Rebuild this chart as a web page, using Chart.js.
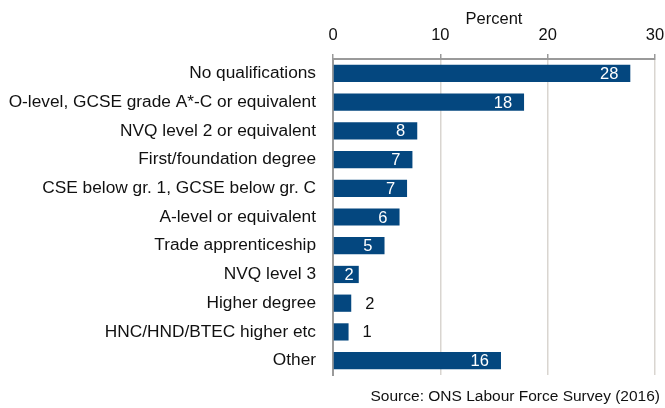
<!DOCTYPE html>
<html lang="en">

<head>
    <meta charset="UTF-8">
    <title>Qualifications</title>
    <style>
        html, body {
            margin: 0;
            padding: 0;
            background: #fff;
        }

        .chart-container {
            position: relative;
            width: 665px;
            height: 408px;
        }
    </style>
</head>

<body>
    <div class="chart-container">
        <canvas id="qualChart"></canvas>
    </div>
    <script src="https://cdn.jsdelivr.net/npm/chart.js"></script>
    <script>
        // 类别和数值
        const categories = [
            'No qualifications',
            'O-level, GCSE grade A*-C or equivalent',
            'NVQ level 2 or equivalent',
            'First/foundation degree',
            'CSE below gr. 1, GCSE below gr. C',
            'A-level or equivalent',
            'Trade apprenticeship',
            'NVQ level 3',
            'Higher degree',
            'HNC/HND/BTEC higher etc',
            'Other'
        ];
        const percentValues = [27.7, 17.8, 7.85, 7.4, 6.9, 6.2, 4.8, 2.4, 1.7, 1.45, 15.65];
        const xTicks = [0, 10, 20, 30];
        const sourceText = 'Source: ONS Labour Force Survey (2016)';

        const fontFamily = "'Liberation Sans', Arial, Helvetica, sans-serif";
        Chart.defaults.font.family = fontFamily;
        Chart.defaults.color = '#111';

        // 数值标签
        const valueLabels = {
            id: 'valueLabels',
            afterDatasetsDraw(chart) {
                const ctx = chart.ctx;
                const meta = chart.getDatasetMeta(0);
                ctx.save();
                ctx.font = '16.5px ' + fontFamily;
                ctx.textBaseline = 'middle';
                meta.data.forEach((bar, i) => {
                    const label = String(Math.round(percentValues[i]));
                    const len = bar.x - bar.base;
                    if (len > 40) {
                        ctx.fillStyle = '#fff';
                        ctx.textAlign = 'right';
                        ctx.fillText(label, bar.x - 12, bar.y + 1);
                    } else if (len > 22) {
                        ctx.fillStyle = '#fff';
                        ctx.textAlign = 'right';
                        ctx.fillText(label, bar.x - 5, bar.y + 1);
                    } else {
                        ctx.fillStyle = '#111';
                        ctx.textAlign = 'left';
                        ctx.fillText(label, bar.x + 14, bar.y + 1);
                    }
                });
                ctx.restore();
            }
        };

        // 来源
        const sourceNote = {
            id: 'sourceNote',
            afterDraw(chart) {
                const ctx = chart.ctx;
                ctx.save();
                ctx.font = '15.5px ' + fontFamily;
                ctx.fillStyle = '#111';
                ctx.textAlign = 'right';
                ctx.textBaseline = 'middle';
                ctx.fillText(sourceText, 660, 397);
                ctx.restore();
            }
        };

        const ctx = document.getElementById('qualChart');
        new Chart(ctx, {
            type: 'bar',
            data: {
                labels: categories,
                datasets: [{
                    label: 'Percent',
                    data: percentValues,
                    backgroundColor: '#04477f',
                    barPercentage: 0.6,
                    categoryPercentage: 1.0
                }]
            },
            options: {
                indexAxis: 'y',
                responsive: true,
                maintainAspectRatio: false,
                animation: false,
                layout: {
                    padding: { top: 0, right: 0, bottom: 33, left: 0 }
                },
                plugins: {
                    legend: { display: false },
                    tooltip: { enabled: false }
                },
                scales: {
                    x: {
                        position: 'top',
                        min: 0,
                        max: 30,
                        afterBuildTicks(scale) {
                            scale.ticks = xTicks.map(v => ({ value: v }));
                        },
                        afterFit(scale) {
                            scale.height = 59;
                            scale.paddingLeft = 0;
                            scale.paddingRight = 10;
                        },
                        title: {
                            display: true,
                            text: 'Percent',
                            font: { size: 16.5 },
                            color: '#111',
                            padding: { top: 10, bottom: 0 }
                        },
                        ticks: {
                            font: { size: 16.5 },
                            color: '#111',
                            padding: 9,
                            maxRotation: 0
                        },
                        grid: {
                            color: '#d9d5d0',
                            lineWidth: 1.5,
                            tickLength: 5,
                            tickColor: '#9a9a9a'
                        },
                        border: {
                            color: '#9a9a9a',
                            width: 2
                        }
                    },
                    y: {
                        afterFit(scale) {
                            scale.width = 333;
                        },
                        ticks: {
                            font: { size: 17.3 },
                            color: '#111',
                            padding: 17
                        },
                        grid: {
                            display: false,
                            drawTicks: false
                        },
                        border: {
                            color: '#9a9a9a',
                            width: 2
                        }
                    }
                }
            },
            plugins: [valueLabels, sourceNote]
        });
    </script>
</body>

</html>
